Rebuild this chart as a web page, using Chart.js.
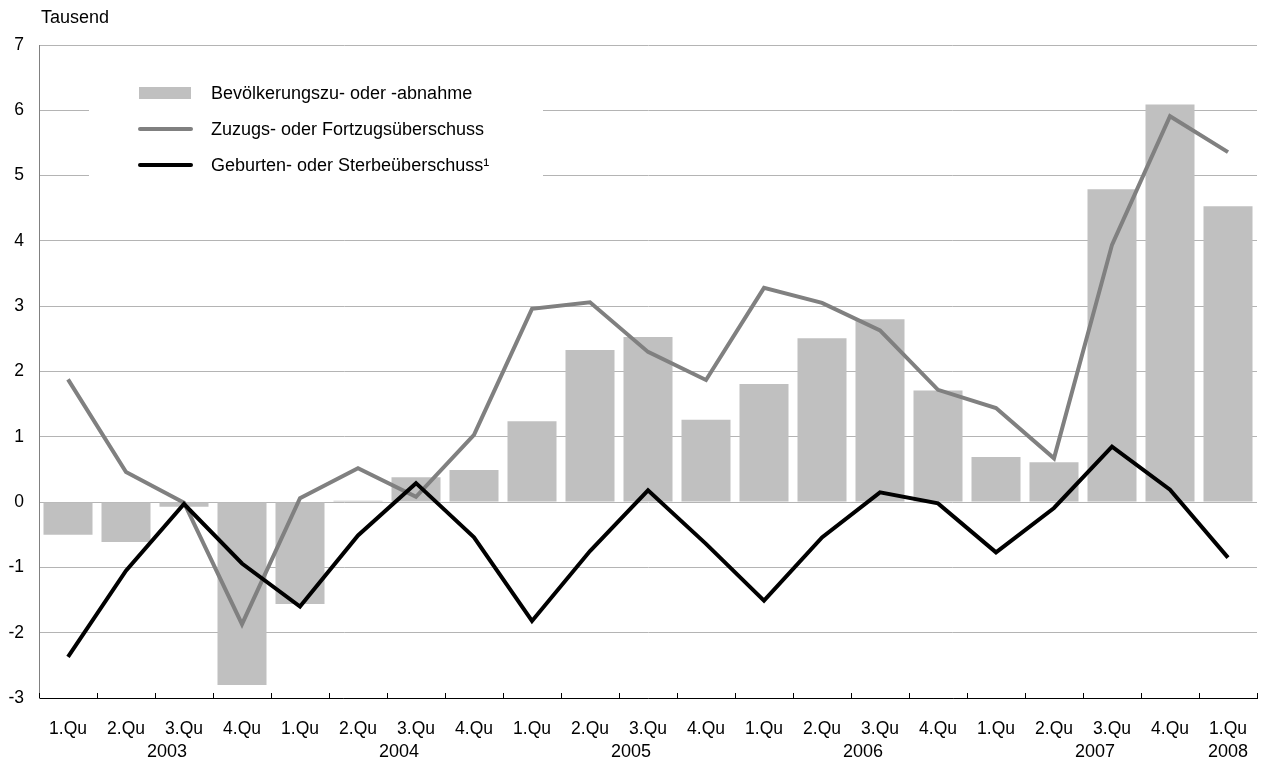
<!DOCTYPE html>
<html lang="de">
<head>
<meta charset="utf-8">
<script src="https://cdn.jsdelivr.net/npm/chart.js@4/dist/chart.umd.min.js"></script>
<style>
  html,body{margin:0;padding:0;background:#fff;}
  #wrap{width:1262px;height:763px;}
</style>
</head>
<body>
<div id="wrap"><canvas id="c" width="1262" height="763"></canvas></div>
<script>
const quarters=['1.Qu','2.Qu','3.Qu','4.Qu','1.Qu','2.Qu','3.Qu','4.Qu','1.Qu','2.Qu','3.Qu','4.Qu',
  '1.Qu','2.Qu','3.Qu','4.Qu','1.Qu','2.Qu','3.Qu','4.Qu','1.Qu'];
const years=['2003','2004','2005','2006','2007','2008'];
const yTicks=[-3,-2,-1,0,1,2,3,4,5,6,7];

const bevoelkerung=[-0.50,-0.61,-0.07,-2.80,-1.56,0.02,0.38,0.49,1.24,2.33,2.53,1.26,1.81,2.51,2.80,1.71,0.69,0.61,4.79,6.09,4.53];
const wanderung=[1.88,0.46,-0.01,-1.87,0.06,0.52,0.08,1.03,2.96,3.06,2.30,1.87,3.28,3.05,2.63,1.72,1.44,0.67,3.94,5.91,5.36];
const natuerlich=[-2.37,-1.05,-0.03,-0.94,-1.60,-0.51,0.29,-0.54,-1.82,-0.75,0.18,-0.64,-1.51,-0.54,0.15,-0.02,-0.77,-0.09,0.85,0.19,-0.85];

const FONT='"Liberation Sans", Arial, sans-serif';

// x-axis tick marks (pointing up), year labels, unit label, legend box
const extras={
  id:'extras',
  afterDraw(chart){
    const ctx=chart.ctx, x=chart.scales.x, a=chart.chartArea;
    ctx.save();
    // tick marks
    ctx.strokeStyle='#000'; ctx.lineWidth=1;
    const step=x.getPixelForValue(1)-x.getPixelForValue(0);
    for(let i=0;i<=quarters.length;i++){
      const px=Math.round(x.getPixelForValue(0)-step/2+i*step)+0.5;
      ctx.beginPath(); ctx.moveTo(px,a.bottom); ctx.lineTo(px,a.bottom-5); ctx.stroke();
    }
    // years
    ctx.fillStyle='#000'; ctx.font='18px '+FONT; ctx.textAlign='center'; ctx.textBaseline='middle';
    years.forEach((y,k)=>{
      let px;
      if(k<years.length-1){
        px=(x.getPixelForValue(k*4+1)+x.getPixelForValue(k*4+2))/2+12;
      } else px=x.getPixelForValue(k*4);
      ctx.fillText(y,px,752);
    });
    // unit
    ctx.textAlign='left';
    ctx.fillText('Tausend',41,18);
    // legend
    ctx.fillStyle='#fff';
    ctx.fillRect(89,58,454,150);
    const ds=chart.data.datasets;
    const rows=[93,129,165];
    ds.forEach((d,i)=>{
      const yy=rows[i];
      if(d.type==='bar'){
        ctx.fillStyle=d.backgroundColor;
        ctx.fillRect(139,yy-6,52,12);
      } else {
        ctx.strokeStyle=d.borderColor; ctx.lineWidth=4; ctx.lineCap='round';
        ctx.beginPath(); ctx.moveTo(140,yy); ctx.lineTo(191,yy); ctx.stroke();
      }
      ctx.fillStyle='#000';
      ctx.fillText(d.label,211,yy+1);
    });
    ctx.restore();
  }
};

new Chart(document.getElementById('c'),{
  data:{
    labels:quarters,
    datasets:[
      {type:'bar',label:'Bevölkerungszu- oder -abnahme',data:bevoelkerung,backgroundColor:'#c0c0c0',
        barPercentage:0.845,categoryPercentage:1,order:3},
      {type:'line',label:'Zuzugs- oder Fortzugsüberschuss',data:wanderung,borderColor:'#808080',borderWidth:4,
        pointRadius:0,tension:0,order:2},
      {type:'line',label:'Geburten- oder Sterbeüberschuss¹',data:natuerlich,borderColor:'#000',borderWidth:4,
        pointRadius:0,tension:0,order:1}
    ]
  },
  options:{
    responsive:false,animation:false,
    layout:{padding:{top:45,right:5,left:0,bottom:0}},
    plugins:{legend:{display:false},tooltip:{enabled:false}},
    scales:{
      x:{
        offset:true,
        grid:{display:false},
        border:{color:'#000',width:1},
        ticks:{color:'#000',font:{family:FONT,size:17.5},padding:13,maxRotation:0,autoSkip:false},
        afterFit(s){ s.height=65; }
      },
      y:{
        min:-3,max:7,
        afterBuildTicks(s){ s.ticks=yTicks.map(v=>({value:v})); },
        grid:{color:'#b4b4b4',drawTicks:false,lineWidth:1},
        border:{color:'#808080',width:1},
        ticks:{color:'#000',font:{family:FONT,size:17.5},padding:15},
        afterFit(s){ s.width=39; }
      }
    }
  },
  plugins:[extras]
});
</script>
</body>
</html>
